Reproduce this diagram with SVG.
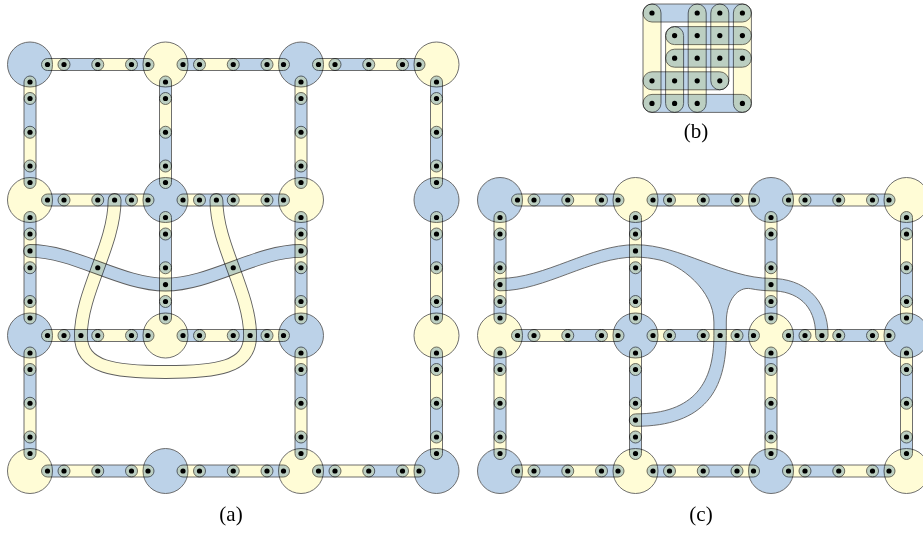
<svg xmlns="http://www.w3.org/2000/svg" width="923" height="533" viewBox="0 0 923 533">
<style>
.B{fill:#bcd2e8;stroke:#5f5f5f;stroke-width:.9;mix-blend-mode:multiply}
.Y{fill:#fffcd6;stroke:#5f5f5f;stroke-width:.9;mix-blend-mode:multiply}
.blend{mix-blend-mode:multiply}
.rim{fill:none;stroke:#5f5f5f;stroke-width:13.8;stroke-linecap:round}
.fb{fill:none;stroke:#bcd2e8;stroke-width:12;stroke-linecap:round}
.fy{fill:none;stroke:#fffcd6;stroke-width:12;stroke-linecap:round}
.d circle{fill:#000}
.lbl{font-family:"Liberation Serif","Times New Roman",serif;font-size:21px;text-anchor:middle;fill:#000}
</style>
<rect x="0" y="0" width="923" height="533" fill="#fff"/>

<!-- Panel (a): junction discs -->
<g id="a-nodes">
<circle id="a00" class="B" cx="30" cy="64.5" r="22.5"/>
<circle id="a10" class="Y" cx="165.5" cy="64.5" r="22.5"/>
<circle id="a20" class="B" cx="301" cy="64.5" r="22.5"/>
<circle id="a30" class="Y" cx="436.5" cy="64.5" r="22.5"/>
<circle id="a01" class="Y" cx="30" cy="200" r="22.5"/>
<circle id="a11" class="B" cx="165.5" cy="200" r="22.5"/>
<circle id="a21" class="Y" cx="301" cy="200" r="22.5"/>
<circle id="a31" class="B" cx="436.5" cy="200" r="22.5"/>
<circle id="a02" class="B" cx="30" cy="335.5" r="22.5"/>
<circle id="a12" class="Y" cx="165.5" cy="335.5" r="22.5"/>
<circle id="a22" class="B" cx="301" cy="335.5" r="22.5"/>
<circle id="a32" class="Y" cx="436.5" cy="335.5" r="22.5"/>
<circle id="a03" class="Y" cx="30" cy="471" r="22.5"/>
<circle id="a13" class="B" cx="165.5" cy="471" r="22.5"/>
<circle id="a23" class="Y" cx="301" cy="471" r="22.5"/>
<circle id="a33" class="B" cx="436.5" cy="471" r="22.5"/>
</g>

<!-- Panel (a): chains of two-colour capsules along the grid edges -->
<g id="a-connectors">
<rect class="Y" x="41.5" y="58.5" width="28.5" height="12" rx="6"/>
<rect class="B" x="58" y="58.5" width="45.75" height="12" rx="6"/>
<rect class="Y" x="91.75" y="58.5" width="45.75" height="12" rx="6"/>
<rect class="B" x="125.5" y="58.5" width="28.5" height="12" rx="6"/>
<rect class="B" x="177" y="58.5" width="28.5" height="12" rx="6"/>
<rect class="Y" x="193.5" y="58.5" width="45.75" height="12" rx="6"/>
<rect class="B" x="227.25" y="58.5" width="45.75" height="12" rx="6"/>
<rect class="Y" x="261" y="58.5" width="28.5" height="12" rx="6"/>
<rect class="Y" x="312.5" y="58.5" width="28.5" height="12" rx="6"/>
<rect class="B" x="329" y="58.5" width="45.75" height="12" rx="6"/>
<rect class="Y" x="362.75" y="58.5" width="45.75" height="12" rx="6"/>
<rect class="B" x="396.5" y="58.5" width="28.5" height="12" rx="6"/>

<rect class="B" x="41.5" y="194" width="28.5" height="12" rx="6"/>
<rect class="Y" x="58" y="194" width="45.75" height="12" rx="6"/>
<rect class="B" x="91.75" y="194" width="45.75" height="12" rx="6"/>
<rect class="Y" x="125.5" y="194" width="28.5" height="12" rx="6"/>
<rect class="Y" x="177" y="194" width="28.5" height="12" rx="6"/>
<rect class="B" x="193.5" y="194" width="45.75" height="12" rx="6"/>
<rect class="Y" x="227.25" y="194" width="45.75" height="12" rx="6"/>
<rect class="B" x="261" y="194" width="28.5" height="12" rx="6"/>

<rect class="Y" x="41.5" y="329.5" width="28.5" height="12" rx="6"/>
<rect class="B" x="58" y="329.5" width="45.75" height="12" rx="6"/>
<rect class="Y" x="91.75" y="329.5" width="45.75" height="12" rx="6"/>
<rect class="B" x="125.5" y="329.5" width="28.5" height="12" rx="6"/>
<rect class="B" x="177" y="329.5" width="28.5" height="12" rx="6"/>
<rect class="Y" x="193.5" y="329.5" width="45.75" height="12" rx="6"/>
<rect class="B" x="227.25" y="329.5" width="45.75" height="12" rx="6"/>
<rect class="Y" x="261" y="329.5" width="28.5" height="12" rx="6"/>

<rect class="B" x="41.5" y="465" width="28.5" height="12" rx="6"/>
<rect class="Y" x="58" y="465" width="45.75" height="12" rx="6"/>
<rect class="B" x="91.75" y="465" width="45.75" height="12" rx="6"/>
<rect class="Y" x="125.5" y="465" width="28.5" height="12" rx="6"/>
<rect class="Y" x="177" y="465" width="28.5" height="12" rx="6"/>
<rect class="B" x="193.5" y="465" width="45.75" height="12" rx="6"/>
<rect class="Y" x="227.25" y="465" width="45.75" height="12" rx="6"/>
<rect class="B" x="261" y="465" width="28.5" height="12" rx="6"/>
<rect class="B" x="312.5" y="465" width="28.5" height="12" rx="6"/>
<rect class="Y" x="329" y="465" width="45.75" height="12" rx="6"/>
<rect class="B" x="362.75" y="465" width="45.75" height="12" rx="6"/>
<rect class="Y" x="396.5" y="465" width="28.5" height="12" rx="6"/>

<rect class="Y" x="24" y="76" width="12" height="28.5" rx="6"/>
<rect class="B" x="24" y="92.5" width="12" height="45.75" rx="6"/>
<rect class="Y" x="24" y="126.25" width="12" height="45.75" rx="6"/>
<rect class="B" x="24" y="160" width="12" height="28.5" rx="6"/>
<rect class="B" x="24" y="211.5" width="12" height="28.5" rx="6"/>
<rect class="Y" x="24" y="228" width="12" height="45.75" rx="6"/>
<rect class="B" x="24" y="261.75" width="12" height="45.75" rx="6"/>
<rect class="Y" x="24" y="295.5" width="12" height="28.5" rx="6"/>
<rect class="Y" x="24" y="347" width="12" height="28.5" rx="6"/>
<rect class="B" x="24" y="363.5" width="12" height="45.75" rx="6"/>
<rect class="Y" x="24" y="397.25" width="12" height="45.75" rx="6"/>
<rect class="B" x="24" y="431" width="12" height="28.5" rx="6"/>

<rect class="B" x="159.5" y="76" width="12" height="28.5" rx="6"/>
<rect class="Y" x="159.5" y="92.5" width="12" height="45.75" rx="6"/>
<rect class="B" x="159.5" y="126.25" width="12" height="45.75" rx="6"/>
<rect class="Y" x="159.5" y="160" width="12" height="28.5" rx="6"/>
<rect class="Y" x="159.5" y="211.5" width="12" height="28.5" rx="6"/>
<rect class="B" x="159.5" y="228" width="12" height="45.75" rx="6"/>
<rect class="Y" x="159.5" y="261.75" width="12" height="45.75" rx="6"/>
<rect class="B" x="159.5" y="295.5" width="12" height="28.5" rx="6"/>

<rect class="Y" x="295" y="76" width="12" height="28.5" rx="6"/>
<rect class="B" x="295" y="92.5" width="12" height="45.75" rx="6"/>
<rect class="Y" x="295" y="126.25" width="12" height="45.75" rx="6"/>
<rect class="B" x="295" y="160" width="12" height="28.5" rx="6"/>
<rect class="B" x="295" y="211.5" width="12" height="28.5" rx="6"/>
<rect class="Y" x="295" y="228" width="12" height="45.75" rx="6"/>
<rect class="B" x="295" y="261.75" width="12" height="45.75" rx="6"/>
<rect class="Y" x="295" y="295.5" width="12" height="28.5" rx="6"/>
<rect class="Y" x="295" y="347" width="12" height="28.5" rx="6"/>
<rect class="B" x="295" y="363.5" width="12" height="45.75" rx="6"/>
<rect class="Y" x="295" y="397.25" width="12" height="45.75" rx="6"/>
<rect class="B" x="295" y="431" width="12" height="28.5" rx="6"/>

<rect class="B" x="430.5" y="76" width="12" height="28.5" rx="6"/>
<rect class="Y" x="430.5" y="92.5" width="12" height="45.75" rx="6"/>
<rect class="B" x="430.5" y="126.25" width="12" height="45.75" rx="6"/>
<rect class="Y" x="430.5" y="160" width="12" height="28.5" rx="6"/>
<rect class="Y" x="430.5" y="211.5" width="12" height="28.5" rx="6"/>
<rect class="B" x="430.5" y="228" width="12" height="45.75" rx="6"/>
<rect class="Y" x="430.5" y="261.75" width="12" height="45.75" rx="6"/>
<rect class="B" x="430.5" y="295.5" width="12" height="28.5" rx="6"/>
<rect class="B" x="430.5" y="347" width="12" height="28.5" rx="6"/>
<rect class="Y" x="430.5" y="363.5" width="12" height="45.75" rx="6"/>
<rect class="B" x="430.5" y="397.25" width="12" height="45.75" rx="6"/>
<rect class="Y" x="430.5" y="431" width="12" height="28.5" rx="6"/>

<!-- wavy blue band and yellow U-shaped band -->
<g class="blend">
<path class="rim" d="M30,250.9 C75,250.9 120.5,284.6 165.5,284.6 C210.5,284.6 256,250.9 301,250.9"/>
<path class="fb" d="M30,250.9 C75,250.9 120.5,284.6 165.5,284.6 C210.5,284.6 256,250.9 301,250.9"/>
</g>
<g class="blend">
<path class="rim" d="M114.6,200 C114.6,245 80.9,292 80.9,335.5 C80.9,368 115,372 165.5,372 C216,372 250.1,368 250.1,335.5 C250.1,292 216.4,245 216.4,200"/>
<path class="fy" d="M114.6,200 C114.6,245 80.9,292 80.9,335.5 C80.9,368 115,372 165.5,372 C216,372 250.1,368 250.1,335.5 C250.1,292 216.4,245 216.4,200"/>
</g>
</g>

<!-- Panel (a): vertices -->
<g class="d">
<circle cx="47.5" cy="64.5" r="2.6"/><circle cx="64" cy="64.5" r="2.6"/><circle cx="97.75" cy="64.5" r="2.6"/><circle cx="131.5" cy="64.5" r="2.6"/><circle cx="148" cy="64.5" r="2.6"/>
<circle cx="183" cy="64.5" r="2.6"/><circle cx="199.5" cy="64.5" r="2.6"/><circle cx="233.25" cy="64.5" r="2.6"/><circle cx="267" cy="64.5" r="2.6"/><circle cx="283.5" cy="64.5" r="2.6"/>
<circle cx="318.5" cy="64.5" r="2.6"/><circle cx="335" cy="64.5" r="2.6"/><circle cx="368.75" cy="64.5" r="2.6"/><circle cx="402.5" cy="64.5" r="2.6"/><circle cx="419" cy="64.5" r="2.6"/>
<circle cx="47.5" cy="200" r="2.6"/><circle cx="64" cy="200" r="2.6"/><circle cx="97.75" cy="200" r="2.6"/><circle cx="114.6" cy="200" r="2.6"/><circle cx="131.5" cy="200" r="2.6"/><circle cx="148" cy="200" r="2.6"/>
<circle cx="183" cy="200" r="2.6"/><circle cx="199.5" cy="200" r="2.6"/><circle cx="216.4" cy="200" r="2.6"/><circle cx="233.25" cy="200" r="2.6"/><circle cx="267" cy="200" r="2.6"/><circle cx="283.5" cy="200" r="2.6"/>
<circle cx="47.5" cy="335.5" r="2.6"/><circle cx="64" cy="335.5" r="2.6"/><circle cx="80.9" cy="335.5" r="2.6"/><circle cx="97.75" cy="335.5" r="2.6"/><circle cx="131.5" cy="335.5" r="2.6"/><circle cx="148" cy="335.5" r="2.6"/>
<circle cx="183" cy="335.5" r="2.6"/><circle cx="199.5" cy="335.5" r="2.6"/><circle cx="233.25" cy="335.5" r="2.6"/><circle cx="250.1" cy="335.5" r="2.6"/><circle cx="267" cy="335.5" r="2.6"/><circle cx="283.5" cy="335.5" r="2.6"/>
<circle cx="47.5" cy="471" r="2.6"/><circle cx="64" cy="471" r="2.6"/><circle cx="97.75" cy="471" r="2.6"/><circle cx="131.5" cy="471" r="2.6"/><circle cx="148" cy="471" r="2.6"/>
<circle cx="183" cy="471" r="2.6"/><circle cx="199.5" cy="471" r="2.6"/><circle cx="233.25" cy="471" r="2.6"/><circle cx="267" cy="471" r="2.6"/><circle cx="283.5" cy="471" r="2.6"/>
<circle cx="318.5" cy="471" r="2.6"/><circle cx="335" cy="471" r="2.6"/><circle cx="368.75" cy="471" r="2.6"/><circle cx="402.5" cy="471" r="2.6"/><circle cx="419" cy="471" r="2.6"/>
<circle cx="30" cy="82" r="2.6"/><circle cx="30" cy="98.5" r="2.6"/><circle cx="30" cy="132.25" r="2.6"/><circle cx="30" cy="166" r="2.6"/><circle cx="30" cy="182.5" r="2.6"/>
<circle cx="30" cy="217.5" r="2.6"/><circle cx="30" cy="234" r="2.6"/><circle cx="30" cy="250.9" r="2.6"/><circle cx="30" cy="267.75" r="2.6"/><circle cx="30" cy="301.5" r="2.6"/><circle cx="30" cy="318" r="2.6"/>
<circle cx="30" cy="353" r="2.6"/><circle cx="30" cy="369.5" r="2.6"/><circle cx="30" cy="403.25" r="2.6"/><circle cx="30" cy="437" r="2.6"/><circle cx="30" cy="453.5" r="2.6"/>
<circle cx="165.5" cy="82" r="2.6"/><circle cx="165.5" cy="98.5" r="2.6"/><circle cx="165.5" cy="132.25" r="2.6"/><circle cx="165.5" cy="166" r="2.6"/><circle cx="165.5" cy="182.5" r="2.6"/>
<circle cx="165.5" cy="217.5" r="2.6"/><circle cx="165.5" cy="234" r="2.6"/><circle cx="165.5" cy="267.75" r="2.6"/><circle cx="165.5" cy="284.6" r="2.6"/><circle cx="165.5" cy="301.5" r="2.6"/><circle cx="165.5" cy="318" r="2.6"/>
<circle cx="301" cy="82" r="2.6"/><circle cx="301" cy="98.5" r="2.6"/><circle cx="301" cy="132.25" r="2.6"/><circle cx="301" cy="166" r="2.6"/><circle cx="301" cy="182.5" r="2.6"/>
<circle cx="301" cy="217.5" r="2.6"/><circle cx="301" cy="234" r="2.6"/><circle cx="301" cy="250.9" r="2.6"/><circle cx="301" cy="267.75" r="2.6"/><circle cx="301" cy="301.5" r="2.6"/><circle cx="301" cy="318" r="2.6"/>
<circle cx="301" cy="353" r="2.6"/><circle cx="301" cy="369.5" r="2.6"/><circle cx="301" cy="403.25" r="2.6"/><circle cx="301" cy="437" r="2.6"/><circle cx="301" cy="453.5" r="2.6"/>
<circle cx="436.5" cy="82" r="2.6"/><circle cx="436.5" cy="98.5" r="2.6"/><circle cx="436.5" cy="132.25" r="2.6"/><circle cx="436.5" cy="166" r="2.6"/><circle cx="436.5" cy="182.5" r="2.6"/>
<circle cx="436.5" cy="217.5" r="2.6"/><circle cx="436.5" cy="234" r="2.6"/><circle cx="436.5" cy="267.75" r="2.6"/><circle cx="436.5" cy="301.5" r="2.6"/><circle cx="436.5" cy="318" r="2.6"/>
<circle cx="436.5" cy="353" r="2.6"/><circle cx="436.5" cy="369.5" r="2.6"/><circle cx="436.5" cy="403.25" r="2.6"/><circle cx="436.5" cy="437" r="2.6"/><circle cx="436.5" cy="453.5" r="2.6"/>
<circle cx="97.75" cy="267.75" r="2.6"/><circle cx="233.25" cy="267.75" r="2.6"/>
</g>

<!-- Panel (b): 5x5 grid with row and column hyperedges -->
<g id="b-panel">
<rect class="Y" x="643" y="4" width="18" height="108.4" rx="9"/>
<rect class="Y" x="665.6" y="26.6" width="18" height="85.8" rx="9"/>
<rect class="Y" x="688.2" y="4" width="18" height="108.4" rx="9"/>
<rect class="Y" x="710.8" y="4" width="18" height="85.8" rx="9"/>
<rect class="Y" x="733.4" y="4" width="18" height="108.4" rx="9"/>
<rect class="B" x="643" y="4" width="108.4" height="18" rx="9"/>
<rect class="B" x="665.6" y="26.6" width="85.8" height="18" rx="9"/>
<rect class="B" x="665.6" y="49.2" width="85.8" height="18" rx="9"/>
<rect class="B" x="643" y="71.8" width="85.8" height="18" rx="9"/>
<rect class="B" x="643" y="94.4" width="108.4" height="18" rx="9"/>
<g class="d">
<circle cx="652" cy="13" r="2.6"/><circle cx="697.2" cy="13" r="2.6"/><circle cx="719.8" cy="13" r="2.6"/><circle cx="742.4" cy="13" r="2.6"/>
<circle cx="674.6" cy="35.6" r="2.6"/><circle cx="697.2" cy="35.6" r="2.6"/><circle cx="719.8" cy="35.6" r="2.6"/><circle cx="742.4" cy="35.6" r="2.6"/>
<circle cx="674.6" cy="58.2" r="2.6"/><circle cx="697.2" cy="58.2" r="2.6"/><circle cx="719.8" cy="58.2" r="2.6"/><circle cx="742.4" cy="58.2" r="2.6"/>
<circle cx="652" cy="80.8" r="2.6"/><circle cx="674.6" cy="80.8" r="2.6"/><circle cx="697.2" cy="80.8" r="2.6"/><circle cx="719.8" cy="80.8" r="2.6"/>
<circle cx="652" cy="103.4" r="2.6"/><circle cx="674.6" cy="103.4" r="2.6"/><circle cx="697.2" cy="103.4" r="2.6"/><circle cx="742.4" cy="103.4" r="2.6"/>
</g>
</g>

<!-- Panel (c): junction discs -->
<g id="c-nodes">
<circle id="c00" class="B" cx="500" cy="200" r="22.5"/>
<circle id="c10" class="Y" cx="635.5" cy="200" r="22.5"/>
<circle id="c20" class="B" cx="771" cy="200" r="22.5"/>
<circle id="c30" class="Y" cx="906.5" cy="200" r="22.5"/>
<circle id="c01" class="Y" cx="500" cy="335.5" r="22.5"/>
<circle id="c11" class="B" cx="635.5" cy="335.5" r="22.5"/>
<circle id="c21" class="Y" cx="771" cy="335.5" r="22.5"/>
<circle id="c31" class="B" cx="906.5" cy="335.5" r="22.5"/>
<circle id="c02" class="B" cx="500" cy="471" r="22.5"/>
<circle id="c12" class="Y" cx="635.5" cy="471" r="22.5"/>
<circle id="c22" class="B" cx="771" cy="471" r="22.5"/>
<circle id="c32" class="Y" cx="906.5" cy="471" r="22.5"/>
</g>

<!-- Panel (c): capsule chains and the branching blue region -->
<g id="c-connectors">
<rect class="Y" x="511.5" y="194" width="28.5" height="12" rx="6"/>
<rect class="B" x="528" y="194" width="45.75" height="12" rx="6"/>
<rect class="Y" x="561.75" y="194" width="45.75" height="12" rx="6"/>
<rect class="B" x="595.5" y="194" width="28.5" height="12" rx="6"/>
<rect class="B" x="647" y="194" width="28.5" height="12" rx="6"/>
<rect class="Y" x="663.5" y="194" width="45.75" height="12" rx="6"/>
<rect class="B" x="697.25" y="194" width="45.75" height="12" rx="6"/>
<rect class="Y" x="731" y="194" width="28.5" height="12" rx="6"/>
<rect class="Y" x="782.5" y="194" width="28.5" height="12" rx="6"/>
<rect class="B" x="799" y="194" width="45.75" height="12" rx="6"/>
<rect class="Y" x="832.75" y="194" width="45.75" height="12" rx="6"/>
<rect class="B" x="866.5" y="194" width="28.5" height="12" rx="6"/>

<rect class="B" x="511.5" y="329.5" width="28.5" height="12" rx="6"/>
<rect class="Y" x="528" y="329.5" width="45.75" height="12" rx="6"/>
<rect class="B" x="561.75" y="329.5" width="45.75" height="12" rx="6"/>
<rect class="Y" x="595.5" y="329.5" width="28.5" height="12" rx="6"/>
<rect class="Y" x="647" y="329.5" width="28.5" height="12" rx="6"/>
<rect class="B" x="663.5" y="329.5" width="45.75" height="12" rx="6"/>
<rect class="Y" x="697.25" y="329.5" width="45.75" height="12" rx="6"/>
<rect class="B" x="731" y="329.5" width="28.5" height="12" rx="6"/>
<rect class="B" x="782.5" y="329.5" width="28.5" height="12" rx="6"/>
<rect class="Y" x="799" y="329.5" width="45.75" height="12" rx="6"/>
<rect class="B" x="832.75" y="329.5" width="45.75" height="12" rx="6"/>
<rect class="Y" x="866.5" y="329.5" width="28.5" height="12" rx="6"/>

<rect class="Y" x="511.5" y="465" width="28.5" height="12" rx="6"/>
<rect class="B" x="528" y="465" width="45.75" height="12" rx="6"/>
<rect class="Y" x="561.75" y="465" width="45.75" height="12" rx="6"/>
<rect class="B" x="595.5" y="465" width="28.5" height="12" rx="6"/>
<rect class="B" x="647" y="465" width="28.5" height="12" rx="6"/>
<rect class="Y" x="663.5" y="465" width="45.75" height="12" rx="6"/>
<rect class="B" x="697.25" y="465" width="45.75" height="12" rx="6"/>
<rect class="Y" x="731" y="465" width="28.5" height="12" rx="6"/>
<rect class="Y" x="782.5" y="465" width="28.5" height="12" rx="6"/>
<rect class="B" x="799" y="465" width="45.75" height="12" rx="6"/>
<rect class="Y" x="832.75" y="465" width="45.75" height="12" rx="6"/>
<rect class="B" x="866.5" y="465" width="28.5" height="12" rx="6"/>

<rect class="Y" x="494" y="211.5" width="12" height="28.5" rx="6"/>
<rect class="B" x="494" y="228" width="12" height="45.75" rx="6"/>
<rect class="Y" x="494" y="261.75" width="12" height="45.75" rx="6"/>
<rect class="B" x="494" y="295.5" width="12" height="28.5" rx="6"/>
<rect class="B" x="494" y="347" width="12" height="28.5" rx="6"/>
<rect class="Y" x="494" y="363.5" width="12" height="45.75" rx="6"/>
<rect class="B" x="494" y="397.25" width="12" height="45.75" rx="6"/>
<rect class="Y" x="494" y="431" width="12" height="28.5" rx="6"/>

<rect class="B" x="629.5" y="211.5" width="12" height="28.5" rx="6"/>
<rect class="Y" x="629.5" y="228" width="12" height="45.75" rx="6"/>
<rect class="B" x="629.5" y="261.75" width="12" height="45.75" rx="6"/>
<rect class="Y" x="629.5" y="295.5" width="12" height="28.5" rx="6"/>
<rect class="Y" x="629.5" y="347" width="12" height="28.5" rx="6"/>
<rect class="B" x="629.5" y="363.5" width="12" height="45.75" rx="6"/>
<rect class="Y" x="629.5" y="397.25" width="12" height="45.75" rx="6"/>
<rect class="B" x="629.5" y="431" width="12" height="28.5" rx="6"/>

<rect class="Y" x="765" y="211.5" width="12" height="28.5" rx="6"/>
<rect class="B" x="765" y="228" width="12" height="45.75" rx="6"/>
<rect class="Y" x="765" y="261.75" width="12" height="45.75" rx="6"/>
<rect class="B" x="765" y="295.5" width="12" height="28.5" rx="6"/>
<rect class="B" x="765" y="347" width="12" height="28.5" rx="6"/>
<rect class="Y" x="765" y="363.5" width="12" height="45.75" rx="6"/>
<rect class="B" x="765" y="397.25" width="12" height="45.75" rx="6"/>
<rect class="Y" x="765" y="431" width="12" height="28.5" rx="6"/>

<rect class="B" x="900.5" y="211.5" width="12" height="28.5" rx="6"/>
<rect class="Y" x="900.5" y="228" width="12" height="45.75" rx="6"/>
<rect class="B" x="900.5" y="261.75" width="12" height="45.75" rx="6"/>
<rect class="Y" x="900.5" y="295.5" width="12" height="28.5" rx="6"/>
<rect class="Y" x="900.5" y="347" width="12" height="28.5" rx="6"/>
<rect class="B" x="900.5" y="363.5" width="12" height="45.75" rx="6"/>
<rect class="Y" x="900.5" y="397.25" width="12" height="45.75" rx="6"/>
<rect class="B" x="900.5" y="431" width="12" height="28.5" rx="6"/>

<path class="B" d="M500,290.8 A6.2,6.2 0 0 1 500,278.4 C545,278.4 590.5,244.7 635.5,244.7 C680.5,244.7 726,278.4 771,278.4 C803,278.4 828.1,298 828.1,335.5 A6.2,6.2 0 0 1 815.7,335.5 C815.7,305 797,290.8 771,290.8 C764.25,290.8 757.5,290 750.7,288.7 C738,286.3 726.3,300 726.3,322 L726.3,335.5 C726.3,390 705,426.3 635.5,426.3 A6.2,6.2 0 0 1 635.5,413.9 C695,413.9 713.9,382 713.9,335.5 L713.9,322 C713.9,290 680,264.5 660,260.1 C651.7,258.2 643.6,257.1 635.5,257.1 C590.5,257.1 545,290.8 500,290.8 Z"/>
</g>

<!-- Panel (c): vertices -->
<g class="d">
<circle cx="517.5" cy="200" r="2.6"/><circle cx="534" cy="200" r="2.6"/><circle cx="567.75" cy="200" r="2.6"/><circle cx="601.5" cy="200" r="2.6"/><circle cx="618" cy="200" r="2.6"/>
<circle cx="653" cy="200" r="2.6"/><circle cx="669.5" cy="200" r="2.6"/><circle cx="703.25" cy="200" r="2.6"/><circle cx="737" cy="200" r="2.6"/><circle cx="753.5" cy="200" r="2.6"/>
<circle cx="788.5" cy="200" r="2.6"/><circle cx="805" cy="200" r="2.6"/><circle cx="838.75" cy="200" r="2.6"/><circle cx="872.5" cy="200" r="2.6"/><circle cx="889" cy="200" r="2.6"/>
<circle cx="517.5" cy="335.5" r="2.6"/><circle cx="534" cy="335.5" r="2.6"/><circle cx="567.75" cy="335.5" r="2.6"/><circle cx="601.5" cy="335.5" r="2.6"/><circle cx="618" cy="335.5" r="2.6"/>
<circle cx="653" cy="335.5" r="2.6"/><circle cx="669.5" cy="335.5" r="2.6"/><circle cx="703.25" cy="335.5" r="2.6"/><circle cx="720.1" cy="335.5" r="2.6"/><circle cx="737" cy="335.5" r="2.6"/><circle cx="753.5" cy="335.5" r="2.6"/>
<circle cx="788.5" cy="335.5" r="2.6"/><circle cx="805" cy="335.5" r="2.6"/><circle cx="821.9" cy="335.5" r="2.6"/><circle cx="838.75" cy="335.5" r="2.6"/><circle cx="872.5" cy="335.5" r="2.6"/><circle cx="889" cy="335.5" r="2.6"/>
<circle cx="517.5" cy="471" r="2.6"/><circle cx="534" cy="471" r="2.6"/><circle cx="567.75" cy="471" r="2.6"/><circle cx="601.5" cy="471" r="2.6"/><circle cx="618" cy="471" r="2.6"/>
<circle cx="653" cy="471" r="2.6"/><circle cx="669.5" cy="471" r="2.6"/><circle cx="703.25" cy="471" r="2.6"/><circle cx="737" cy="471" r="2.6"/><circle cx="753.5" cy="471" r="2.6"/>
<circle cx="788.5" cy="471" r="2.6"/><circle cx="805" cy="471" r="2.6"/><circle cx="838.75" cy="471" r="2.6"/><circle cx="872.5" cy="471" r="2.6"/><circle cx="889" cy="471" r="2.6"/>
<circle cx="500" cy="217.5" r="2.6"/><circle cx="500" cy="234" r="2.6"/><circle cx="500" cy="267.75" r="2.6"/><circle cx="500" cy="284.6" r="2.6"/><circle cx="500" cy="301.5" r="2.6"/><circle cx="500" cy="318" r="2.6"/>
<circle cx="500" cy="353" r="2.6"/><circle cx="500" cy="369.5" r="2.6"/><circle cx="500" cy="403.25" r="2.6"/><circle cx="500" cy="437" r="2.6"/><circle cx="500" cy="453.5" r="2.6"/>
<circle cx="635.5" cy="217.5" r="2.6"/><circle cx="635.5" cy="234" r="2.6"/><circle cx="635.5" cy="250.9" r="2.6"/><circle cx="635.5" cy="267.75" r="2.6"/><circle cx="635.5" cy="301.5" r="2.6"/><circle cx="635.5" cy="318" r="2.6"/>
<circle cx="635.5" cy="353" r="2.6"/><circle cx="635.5" cy="369.5" r="2.6"/><circle cx="635.5" cy="403.25" r="2.6"/><circle cx="635.5" cy="420.1" r="2.6"/><circle cx="635.5" cy="437" r="2.6"/><circle cx="635.5" cy="453.5" r="2.6"/>
<circle cx="771" cy="217.5" r="2.6"/><circle cx="771" cy="234" r="2.6"/><circle cx="771" cy="267.75" r="2.6"/><circle cx="771" cy="284.6" r="2.6"/><circle cx="771" cy="301.5" r="2.6"/><circle cx="771" cy="318" r="2.6"/>
<circle cx="771" cy="353" r="2.6"/><circle cx="771" cy="369.5" r="2.6"/><circle cx="771" cy="403.25" r="2.6"/><circle cx="771" cy="437" r="2.6"/><circle cx="771" cy="453.5" r="2.6"/>
<circle cx="906.5" cy="217.5" r="2.6"/><circle cx="906.5" cy="234" r="2.6"/><circle cx="906.5" cy="267.75" r="2.6"/><circle cx="906.5" cy="301.5" r="2.6"/><circle cx="906.5" cy="318" r="2.6"/>
<circle cx="906.5" cy="353" r="2.6"/><circle cx="906.5" cy="369.5" r="2.6"/><circle cx="906.5" cy="403.25" r="2.6"/><circle cx="906.5" cy="437" r="2.6"/><circle cx="906.5" cy="453.5" r="2.6"/>
</g>

<text class="lbl" x="231" y="521">(a)</text>
<text class="lbl" x="696" y="138">(b)</text>
<text class="lbl" x="701" y="521">(c)</text>
</svg>
